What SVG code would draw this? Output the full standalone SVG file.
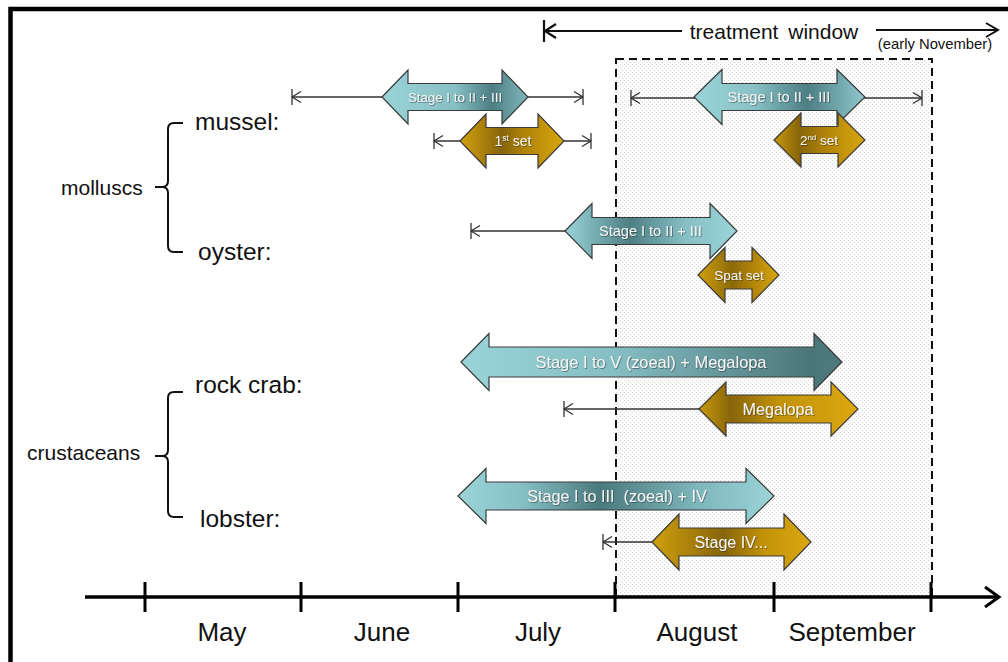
<svg xmlns="http://www.w3.org/2000/svg" width="1008" height="662" viewBox="0 0 1008 662">
<style>
.lbl{font-family:"Liberation Sans",Arial,sans-serif;fill:#111}
.atx{font-family:"Liberation Sans",Arial,sans-serif;fill:#f4f4f4;text-anchor:middle;filter:url(#sh)}
.blk{stroke:#3a3a3a;stroke-width:1.2;stroke-linejoin:miter}
.thin{stroke:#333;stroke-width:1.3;fill:none}
.ax{stroke:#000;stroke-width:3.5;fill:none}
.br{stroke:#111;stroke-width:2;fill:none}
</style>
<defs>
<filter id="sh" x="-10%" y="-30%" width="120%" height="160%">
<feDropShadow dx="0.8" dy="0.8" stdDeviation="0.7" flood-color="#222" flood-opacity="0.55"/>
</filter>
<pattern id="dots" width="4" height="4" patternUnits="userSpaceOnUse">
<rect width="4" height="4" fill="#fdfdfd"/>
<rect x="0" y="0" width="1" height="1" fill="#d6d6d6"/>
<rect x="2" y="2" width="1" height="1" fill="#d6d6d6"/>
</pattern>
<marker id="bh" markerUnits="userSpaceOnUse" markerWidth="20" markerHeight="20" viewBox="-10 -10 20 20" refX="0" refY="0" orient="auto-start-reverse">
<path d="M-9,-5.5 L0,0 L-9,5.5 M0,-8 V8" stroke="#333" stroke-width="1.3" fill="none"/>
</marker>
<linearGradient id="bA" x1="0" x2="1" y1="0" y2="0"><stop offset="0" stop-color="#9ad4d9"/><stop offset="0.5" stop-color="#86c0c5"/><stop offset="0.75" stop-color="#4d7f83"/><stop offset="1" stop-color="#80b8bd"/></linearGradient>
<linearGradient id="bB" x1="0" x2="1" y1="0" y2="0"><stop offset="0" stop-color="#9ad4d9"/><stop offset="0.35" stop-color="#88c2c7"/><stop offset="0.66" stop-color="#4d7f83"/><stop offset="1" stop-color="#8ec8cd"/></linearGradient>
<linearGradient id="bC" x1="0" x2="1" y1="0" y2="0"><stop offset="0" stop-color="#9ad4d9"/><stop offset="0.38" stop-color="#4d7f83"/><stop offset="0.7" stop-color="#86c0c5"/><stop offset="1" stop-color="#9ad3d8"/></linearGradient>
<linearGradient id="bD" x1="0" x2="1" y1="0" y2="0"><stop offset="0" stop-color="#9ad4d9"/><stop offset="0.4" stop-color="#85bfc4"/><stop offset="0.92" stop-color="#4b7679"/><stop offset="1" stop-color="#4f7b7e"/></linearGradient>
<linearGradient id="bE" x1="0" x2="1" y1="0" y2="0"><stop offset="0" stop-color="#9ad4d9"/><stop offset="0.2" stop-color="#86c0c5"/><stop offset="0.45" stop-color="#4a7a7e"/><stop offset="0.75" stop-color="#7db5ba"/><stop offset="1" stop-color="#9ad3d8"/></linearGradient>
<linearGradient id="gA" x1="0" x2="1" y1="0" y2="0"><stop offset="0" stop-color="#d4a20d"/><stop offset="0.4" stop-color="#87650a"/><stop offset="0.62" stop-color="#b08309"/><stop offset="1" stop-color="#d8a60f"/></linearGradient>
<linearGradient id="gB" x1="0" x2="1" y1="0" y2="0"><stop offset="0" stop-color="#c9990c"/><stop offset="0.28" stop-color="#87650a"/><stop offset="0.6" stop-color="#b58709"/><stop offset="1" stop-color="#d8a60f"/></linearGradient>
<linearGradient id="gC" x1="0" x2="1" y1="0" y2="0"><stop offset="0" stop-color="#d0a00d"/><stop offset="0.42" stop-color="#8d6a0a"/><stop offset="0.7" stop-color="#b48609"/><stop offset="1" stop-color="#d8a60f"/></linearGradient>
<linearGradient id="gD" x1="0" x2="1" y1="0" y2="0"><stop offset="0" stop-color="#c9990c"/><stop offset="0.2" stop-color="#87650a"/><stop offset="0.5" stop-color="#c29209"/><stop offset="1" stop-color="#dba810"/></linearGradient>
<linearGradient id="gE" x1="0" x2="1" y1="0" y2="0"><stop offset="0" stop-color="#d0a00d"/><stop offset="0.45" stop-color="#87650a"/><stop offset="0.7" stop-color="#c29209"/><stop offset="1" stop-color="#dba810"/></linearGradient>
</defs>
<rect width="1008" height="662" fill="#fff"/>
<path d="M10.5,662 V9 H1008" stroke="#000" stroke-width="4.5" fill="none"/>

<g id="treatment-window">
<rect x="616" y="59" width="316" height="538" fill="url(#dots)" stroke="#111" stroke-width="2" stroke-dasharray="8,5"/>
<path d="M544,20 V42 M544,31 H682 M556,24 L545,31 L556,38" stroke="#111" stroke-width="2.2" fill="none"/>
<path d="M876,30 H998 M986,23 L998,30 L986,37" stroke="#111" stroke-width="2" fill="none"/>
<text class="lbl" x="774" y="39" font-size="21" text-anchor="middle" word-spacing="4">treatment window</text>
<text class="lbl" x="935" y="49" font-size="14.8" text-anchor="middle">(early November)</text>
</g>

<g id="axis">
<path class="ax" d="M85,597 H997"/>
<path d="M985,587 L999,597 L985,607" stroke="#000" stroke-width="3" fill="none"/>
<path d="M145,582 V612 M301,582 V612 M458,582 V612 M615,582 V612 M774,582 V612 M931,582 V612" stroke="#000" stroke-width="3"/>
<g class="lbl" font-size="26" text-anchor="middle">
<text x="222" y="641">May</text>
<text x="382" y="641">June</text>
<text x="538" y="641">July</text>
<text x="697" y="641">August</text>
<text x="852" y="641">September</text>
</g>
</g>

<g id="groups">
<path class="br" d="M183,123 H174 Q168,123 168,129 V181 Q168,187 162,187 H155 M162,187 Q168,187 168,193 V246 Q168,252 174,252 H183"/>
<text class="lbl" x="61" y="195" font-size="21">molluscs</text>
<path class="br" d="M183,392 H174 Q168,392 168,398 V450 Q168,456 162,456 H155 M162,456 Q168,456 168,462 V511 Q168,517 174,517 H183"/>
<text class="lbl" x="27" y="460" font-size="21">crustaceans</text>
<text class="lbl" x="195" y="130" font-size="24.5">mussel:</text>
<text class="lbl" x="198" y="260" font-size="24.5">oyster:</text>
<text class="lbl" x="195" y="393" font-size="24.5">rock crab:</text>
<text class="lbl" x="200" y="527" font-size="24.5">lobster:</text>
</g>

<g id="connectors">
<path class="thin" d="M292,97 H583" marker-start="url(#bh)" marker-end="url(#bh)"/>
<path class="thin" d="M434,141 H591" marker-start="url(#bh)" marker-end="url(#bh)"/>
<path class="thin" d="M631,98 H922" marker-start="url(#bh)" marker-end="url(#bh)"/>
<path class="thin" d="M471,231 H570" marker-start="url(#bh)"/>
<path class="thin" d="M564,409 H702" marker-start="url(#bh)"/>
<path class="thin" d="M603,542 H655" marker-start="url(#bh)"/>
</g>

<g id="mussel-larvae-1">
<path class="blk" fill="url(#bA)" d="M382,97 L408,70 L408,83.5 L502,83.5 L502,70 L528,97 L502,124 L502,110.5 L408,110.5 L408,124 Z"/>
<text class="atx" x="455" y="102" font-size="13.3">Stage I to II + III</text>
</g>
<g id="mussel-set-1">
<path class="blk" fill="url(#gA)" d="M460,141 L486,114 L486,127.5 L538,127.5 L538,114 L564,141 L538,168 L538,154.5 L486,154.5 L486,168 Z"/>
<text class="atx" x="513" y="146" font-size="14">1<tspan dy="-5" font-size="8.5">st</tspan><tspan dy="5"> set</tspan></text>
</g>
<g id="mussel-larvae-2">
<path class="blk" fill="url(#bB)" d="M694,97 L722,69.5 L722,83.5 L837,83.5 L837,69.5 L865,97 L837,124.5 L837,110.5 L722,110.5 L722,124.5 Z"/>
<text class="atx" x="779" y="102" font-size="14.5">Stage I to II + III</text>
</g>
<g id="mussel-set-2">
<path class="blk" fill="url(#gB)" d="M774,140 L801,113 L801,126.5 L838,126.5 L838,113 L865,140 L838,167 L838,153.5 L801,153.5 L801,167 Z"/>
<text class="atx" x="819" y="145" font-size="13.5">2<tspan dy="-5" font-size="8">nd</tspan><tspan dy="5"> set</tspan></text>
</g>
<g id="oyster-larvae">
<path class="blk" fill="url(#bC)" d="M565,231 L592,203.5 L592,217.5 L710,217.5 L710,203.5 L737,231 L710,258.5 L710,244.5 L592,244.5 L592,258.5 Z"/>
<text class="atx" x="650.5" y="236" font-size="14.5">Stage I to II + III</text>
</g>
<g id="oyster-spat">
<path class="blk" fill="url(#gC)" d="M698,275 L725,247.5 L725,261 L752,261 L752,247.5 L779,275 L752,302.5 L752,289 L725,289 L725,302.5 Z"/>
<text class="atx" x="739" y="280" font-size="13.5">Spat set</text>
</g>
<g id="rockcrab-larvae">
<path class="blk" fill="url(#bD)" d="M461,362 L489,333.5 L489,347 L814,347 L814,333.5 L842,362 L814,390.5 L814,377 L489,377 L489,390.5 Z"/>
<text class="atx" x="651" y="368" font-size="16.4">Stage I to V (zoeal) + Megalopa</text>
</g>
<g id="rockcrab-megalopa">
<path class="blk" fill="url(#gD)" d="M699,409 L726,382 L726,395 L831,395 L831,382 L858,409 L831,436 L831,423 L726,423 L726,436 Z"/>
<text class="atx" x="778" y="415" font-size="16.2">Megalopa</text>
</g>
<g id="lobster-larvae">
<path class="blk" fill="url(#bE)" d="M458,496 L486,468.5 L486,482 L746,482 L746,468.5 L774,496 L746,523.5 L746,510 L486,510 L486,523.5 Z"/>
<text class="atx" x="617" y="502" font-size="16.2" xml:space="preserve">Stage I to III  (zoeal) + IV</text>
</g>
<g id="lobster-stage4">
<path class="blk" fill="url(#gE)" d="M652,542 L679,514 L679,528 L784,528 L784,514 L811,542 L784,570 L784,556 L679,556 L679,570 Z"/>
<text class="atx" x="731" y="548" font-size="16">Stage IV...</text>
</g>
</svg>
